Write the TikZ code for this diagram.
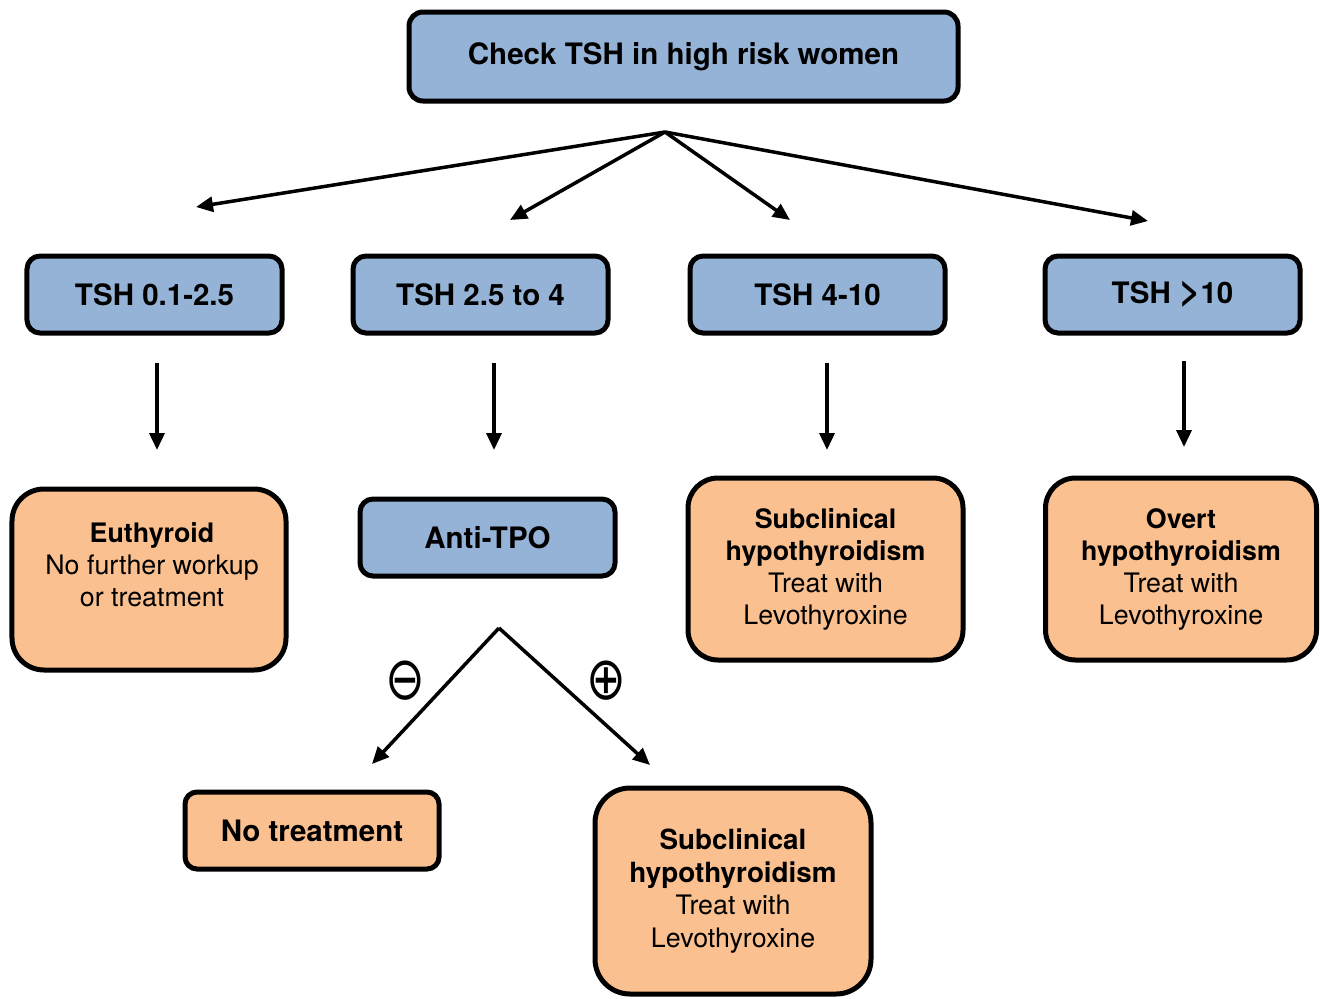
\documentclass[tikz,border=0pt]{standalone}
\usepackage{fontspec}
\setmainfont{TeX Gyre Heros}
\newfontfamily\symfont{DejaVu Sans}
\usetikzlibrary{arrows.meta}
\definecolor{boxblue}{HTML}{95B3D7}
\definecolor{boxorange}{HTML}{FAC090}
\tikzset{
  basebox/.style={draw=black, line width=5bp, inner sep=0pt, align=center, text=black},
  bluebox/.style={basebox, fill=boxblue, rounded corners=13bp,
     font=\fontsize{29.5bp}{33bp}\selectfont\bfseries},
  orangebox/.style={basebox, fill=boxorange, rounded corners=32bp,
     font=\fontsize{26.8bp}{32bp}\selectfont},
  smallorange/.style={basebox, fill=boxorange, rounded corners=13bp,
     font=\fontsize{29.5bp}{33bp}\selectfont\bfseries},
  arr/.style={line width=3.5bp, -{Triangle[length=17bp,width=15bp]}},
  signtext/.style={font=\symfont\fontsize{50bp}{50bp}\selectfont, inner sep=0pt}
}
\begin{document}
\begin{tikzpicture}[x=1bp,y=-1bp]
\useasboundingbox (0,0) rectangle (1320,998);
% boxes
\node[bluebox, minimum width=549bp, minimum height=89bp, rounded corners=14bp] (top) at (683.5,56.5) {Check TSH in high risk women};
\node[bluebox, minimum width=255bp, minimum height=77bp] (t1) at (154.5,294.5) {TSH 0.1-2.5};
\node[bluebox, minimum width=255bp, minimum height=77bp] (t2) at (480.5,294.5) {TSH 2.5 to 4};
\node[bluebox, minimum width=255bp, minimum height=77bp] (t3) at (817.5,294.5) {TSH 4-10};
\node[bluebox, minimum width=255bp, minimum height=77bp] (t4) at (1172.5,294.5) {TSH \raisebox{-0.02em}{\scalebox{1.25}{\textgreater}}10};
\node[orangebox, minimum width=274bp, minimum height=181bp] (eu) at (149,579.5) {};
\node[font=\fontsize{26.8bp}{32bp}\selectfont, align=center, inner sep=0pt] (eutext) at (152,565) {{\bfseries Euthyroid}\\No further workup\\or treatment};
\node[bluebox, minimum width=255bp, minimum height=77bp] (anti) at (487.5,537.5) {Anti-TPO};
\node[orangebox, minimum width=275bp, minimum height=182bp, rounded corners=30bp] (sub1) at (825.5,569) {{\bfseries Subclinical}\\{\bfseries hypothyroidism}\\Treat with\\Levothyroxine};
\node[orangebox, minimum width=271bp, minimum height=182bp, rounded corners=30bp] (overt) at (1181,569) {{\bfseries Overt}\\{\bfseries hypothyroidism}\\Treat with\\Levothyroxine};
\node[smallorange, minimum width=254bp, minimum height=77bp, rounded corners=12bp] (notr) at (312,830.5) {No treatment};
\node[orangebox, minimum width=276bp, minimum height=206bp, rounded corners=35bp, font=\fontsize{26.8bp}{32.5bp}\selectfont] (sub2) at (733,891) {{\fontsize{27.8bp}{32.5bp}\selectfont\bfseries Subclinical}\\{\fontsize{27.8bp}{32.5bp}\selectfont\bfseries hypothyroidism}\\Treat with\\Levothyroxine};
% connector coordinates
\coordinate (hub) at (665,132);
\coordinate (e1) at (196,207);
\coordinate (e2) at (510,220);
\coordinate (e3) at (790,220);
\coordinate (e4) at (1148,221);
\coordinate (v1s) at (157,363); \coordinate (v1e) at (157,450);
\coordinate (v2s) at (494,363); \coordinate (v2e) at (494,450);
\coordinate (v3s) at (827,363); \coordinate (v3e) at (827,450);
\coordinate (v4s) at (1184,361); \coordinate (v4e) at (1184,447);
\coordinate (hub2) at (499,628);
\coordinate (n1) at (372,764);
\coordinate (n2) at (650,765);
% connectors
\draw[arr] (hub) -- (e1);
\draw[arr] (hub) -- (e2);
\draw[arr] (hub) -- (e3);
\draw[arr] (hub) -- (e4);
\draw[arr] (v1s) -- (v1e);
\draw[arr] (v2s) -- (v2e);
\draw[arr] (v3s) -- (v3e);
\draw[arr] (v4s) -- (v4e);
\draw[arr] (hub2) -- (n1);
\draw[arr] (hub2) -- (n2);
% signs
\node[signtext] (neg) at (405,681) {\scalebox{0.95}[1.2]{⊖}};
\node[signtext] (pos) at (606,681) {\scalebox{0.95}[1.2]{⊕}};
\end{tikzpicture}
\end{document}
